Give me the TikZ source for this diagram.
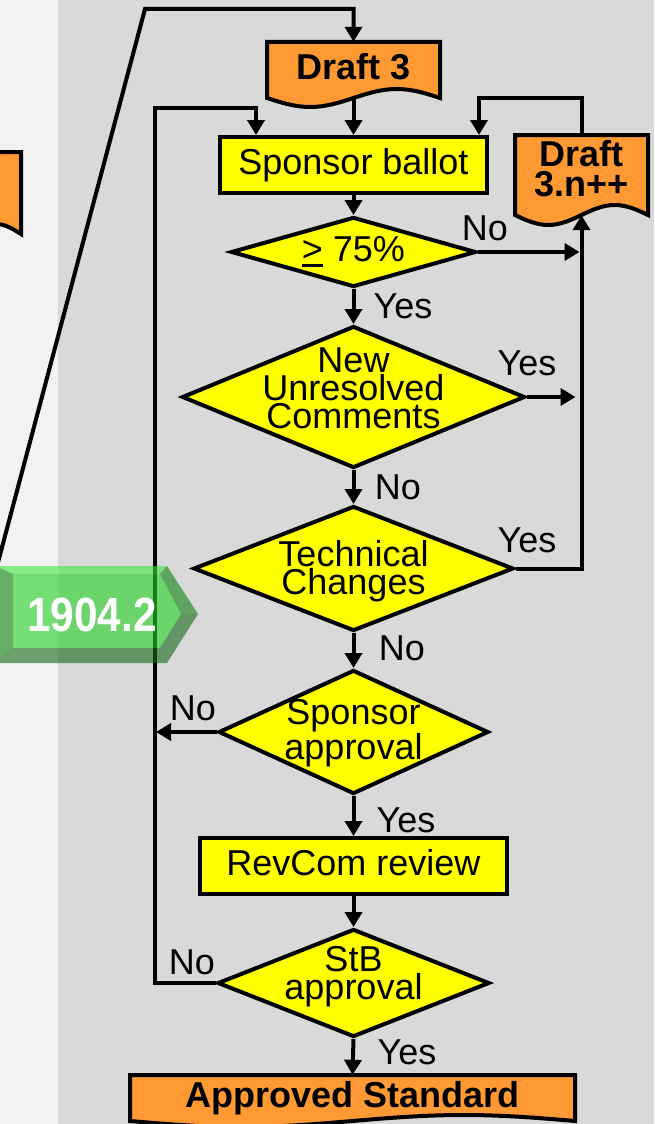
\documentclass[tikz,border=0pt]{standalone}
\usepackage{fontspec}
\setmainfont{Liberation Sans}
\usetikzlibrary{shapes.geometric,arrows.meta}
\definecolor{bgR}{RGB}{217,217,217}
\definecolor{bgL}{RGB}{242,242,242}
\definecolor{dorange}{RGB}{255,153,51}
\definecolor{dyellow}{RGB}{255,255,0}
\definecolor{gface}{RGB}{35,209,35}
\definecolor{gtop}{RGB}{63,230,63}
\definecolor{gbot}{RGB}{22,105,22}
\definecolor{gside}{RGB}{13,130,13}
\newcommand\ulgt{\setbox0\hbox{>}\rlap{\rule[-6pt]{\wd0}{3pt}}\box0}
\newcommand\docshape[5]{%
  \draw[docst] (#1,#2) -- (#3,#2) -- (#3,#4)
    sin ({#3-(#3-#1)/4},{#4-#5}) cos ({(#1+#3)/2},#4)
    sin ({#1+(#3-#1)/4},{#4+#5}) cos (#1,#4) -- cycle;}
\begin{document}
\begin{tikzpicture}[x=1pt,y=-1pt,
  docst/.style={draw,line width=4pt,fill=dorange,line join=miter},
  docarea/.style={draw=none,inner sep=0},
  doctxt/.style={font=\bfseries\fontsize{36}{30}\selectfont,inner sep=0,align=center},
  lbl/.style={font=\fontsize{36}{28}\selectfont,inner sep=0,align=center},
  boxn/.style={draw,line width=4pt,fill=dyellow,inner sep=0,text height=26pt,text depth=8pt,font=\fontsize{36}{28}\selectfont},
  dia/.style={diamond,draw,line width=4pt,fill=dyellow,inner sep=0},
  conn/.style={line width=4pt,line join=miter},
  arr/.style={conn,-{Triangle[length=15pt,width=17pt]}},
  gst/.style={fill opacity=0.6,draw=none}]
\useasboundingbox (0,0) rectangle (654,1124);
\fill[bgL] (0,0) rectangle (58,1124);
\fill[bgR] (58,0) rectangle (654,1124);

% partial document at left edge
\docshape{-79}{152}{21}{234}{10}

% documents
\docshape{267}{42}{440}{98}{9}
\node[docarea,minimum width=173pt,minimum height=56pt] (dr3) at (353.5,70) {};
\node[doctxt] (dr3t) at (353.5,67) {Draft 3};
\docshape{515}{135}{648}{215}{10}
\node[docarea,minimum width=133pt,minimum height=80pt] (dn) at (581.5,175) {};
\node[doctxt] (dnt) at (581.5,169) {Draft\\3.n++};
\docshape{130}{1075}{575}{1121}{6}
\node[docarea,minimum width=445pt,minimum height=46pt] (as) at (352.5,1098) {};
\node[doctxt] (ast) at (352.5,1098) {Approved Standard};

% process boxes
\node[boxn,minimum width=267pt,minimum height=56pt] (sb) at (353.5,165) {Sponsor ballot};
\node[boxn,minimum width=307pt,minimum height=56pt] (rc) at (353.5,866) {RevCom review};

% decisions
\node[dia,minimum width=245pt,minimum height=70pt] (d1) at (353.5,252) {};
\node[lbl] (t1) at (d1) {\ulgt\ 75\%};
\node[dia,minimum width=343pt,minimum height=142pt] (d2) at (353.5,397) {};
\node[lbl] (t2) at (353.5,388) {New\\Unresolved\\Comments};
\node[dia,minimum width=320pt,minimum height=125pt] (d3) at (353.5,568.5) {};
\node[lbl] (t3) at (353.5,571.5) {Technical\\Changes};
\node[dia,minimum width=270pt,minimum height=124pt] (d4) at (353.5,732) {};
\node[lbl] (t4) at (353.5,733) {Sponsor\\approval};
\node[dia,minimum width=272pt,minimum height=108pt] (d5) at (353.5,983) {};
\node[lbl] (t5) at (353.5,977) {StB\\approval};

% main flow
\draw[arr] (dr3.south) -- (sb.north);
\draw[arr] (sb.south) -- (d1.north);
\draw[arr] (d1.south) -- (d2.north);
\draw[arr] (d2.south) -- (d3.north);
\draw[arr] (d3.south) -- (d4.north);
\draw[arr] (d4.south) -- (rc.north);
\draw[arr] (rc.south) -- (d5.north);
\draw[arr] (d5.south) -- (as.north);

% right loop
\draw[arr,shorten >=2pt] (d1.east) -- (d1.east -| dn.south);
\draw[arr,shorten >=6pt] (d2.east) -- (d2.east -| dn.south);
\draw[arr] (d3.east) -- (d3.east -| dn.south) -- (dn.south);
\coordinate (ntop) at (581.5,98);
\draw[arr] (dn.north) -- (ntop) -| ([xshift=-10pt]sb.north east);

% left loop
\coordinate (lp) at (155,108);
\draw[arr] (d5.west) -| (lp) -| ([xshift=38pt]sb.north west);
\draw[arr,shorten >=1pt] (d4.west) -- (d4.west -| lp);

% slanted feed line
\coordinate (s0) at (-12,600);
\coordinate (s1) at (145,9);
\draw[arr] (s0) -- (s1) -| (dr3.north);

% labels
\node[lbl] (l1) at (485,228) {No};
\node[lbl] (l2) at (403,306) {Yes};
\node[lbl] (l3) at (527,363) {Yes};
\node[lbl] (l4) at (398,487) {No};
\node[lbl] (l5) at (527,540) {Yes};
\node[lbl] (l6) at (402,648) {No};
\node[lbl] (l7) at (193,708) {No};
\node[lbl] (l8) at (406,820) {Yes};
\node[lbl] (l9) at (192,962) {No};
\node[lbl] (l10) at (407,1052) {Yes};

% green tag
\coordinate (A) at (-5,566); \coordinate (B) at (167,566);
\coordinate (P) at (198,614); \coordinate (C) at (167,663);
\coordinate (D) at (-5,663);
\coordinate (i1) at (13,574); \coordinate (i2) at (160,574);
\coordinate (ip) at (181,614); \coordinate (i3) at (160,648);
\coordinate (i4) at (13,648);
\fill[gst,gtop] (A) -- (B) -- (i2) -- (i1) -- cycle;
\fill[gst,gside] (A) -- (i1) -- (i4) -- (D) -- cycle;
\fill[gst,gside] (B) -- (P) -- (ip) -- (i2) -- cycle;
\fill[gst,gbot] (P) -- (C) -- (i3) -- (ip) -- cycle;
\fill[gst,gbot] (C) -- (D) -- (i4) -- (i3) -- cycle;
\fill[gst,gface] (i1) -- (i2) -- (ip) -- (i3) -- (i4) -- cycle;
\node[font=\bfseries\fontsize{48}{48}\selectfont,text=white,xscale=0.88,inner sep=0] (tag) at (92,615) {1904.2};
\end{tikzpicture}
\end{document}
